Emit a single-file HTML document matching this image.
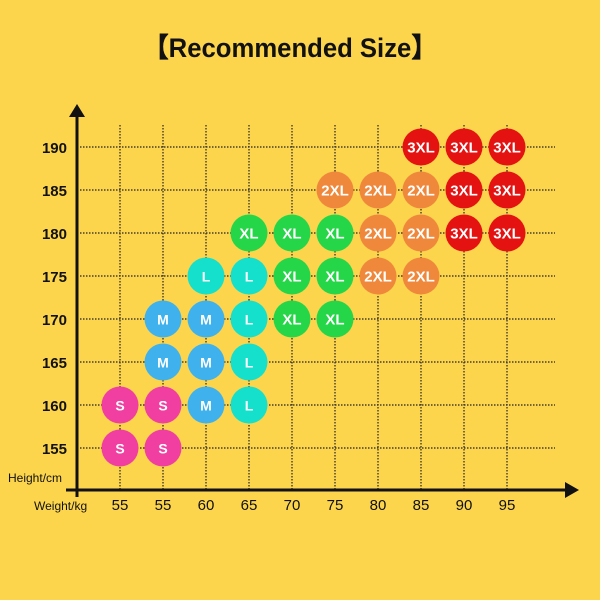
<!DOCTYPE html>
<html><head><meta charset="utf-8"><style>
html,body{margin:0;padding:0;background:#fdd54d;}
svg{display:block}
text{font-family:"Liberation Sans",sans-serif;}
.t{font-size:15px;font-weight:bold;fill:#fff;text-anchor:middle}
.s{font-size:14px;font-weight:bold;fill:#fff;text-anchor:middle}
</style></head><body>
<svg width="600" height="600" viewBox="0 0 600 600" xmlns="http://www.w3.org/2000/svg">
<defs>
<circle id="cc" r="18.5"/>
</defs>
<rect width="600" height="600" fill="#fdd54d"/>
<text x="290" y="57" text-anchor="middle" font-size="27" font-weight="bold" fill="#111" textLength="294" lengthAdjust="spacingAndGlyphs">【Recommended Size】</text>
<g stroke="#222" stroke-width="1.2" stroke-dasharray="1.5,1.5" fill="none">
<line x1="120" y1="125" x2="120" y2="490"/><line x1="163" y1="125" x2="163" y2="490"/><line x1="206" y1="125" x2="206" y2="490"/><line x1="249" y1="125" x2="249" y2="490"/><line x1="292" y1="125" x2="292" y2="490"/><line x1="335" y1="125" x2="335" y2="490"/><line x1="378" y1="125" x2="378" y2="490"/><line x1="421" y1="125" x2="421" y2="490"/><line x1="464" y1="125" x2="464" y2="490"/><line x1="507" y1="125" x2="507" y2="490"/>
<line x1="77" y1="147" x2="555" y2="147"/><line x1="77" y1="190" x2="555" y2="190"/><line x1="77" y1="233" x2="555" y2="233"/><line x1="77" y1="276" x2="555" y2="276"/><line x1="77" y1="319" x2="555" y2="319"/><line x1="77" y1="362" x2="555" y2="362"/><line x1="77" y1="405" x2="555" y2="405"/><line x1="77" y1="448" x2="555" y2="448"/>
</g>
<line x1="77" y1="113" x2="77" y2="497" stroke="#111" stroke-width="3"/>
<polygon points="77,104 69,117 85,117" fill="#111"/>
<line x1="66" y1="490" x2="567" y2="490" stroke="#111" stroke-width="3"/>
<polygon points="579,490 565,482 565,498" fill="#111"/>
<g font-size="15" font-weight="bold" fill="#111" text-anchor="end">
<text x="67" y="153">190</text><text x="67" y="196">185</text><text x="67" y="239">180</text><text x="67" y="282">175</text><text x="67" y="325">170</text><text x="67" y="368">165</text><text x="67" y="411">160</text><text x="67" y="454">155</text>
</g>
<text x="8" y="482" font-size="12" fill="#111">Height/cm</text>
<text x="34" y="510" font-size="12" fill="#111">Weight/kg</text>
<g font-size="15" fill="#111" text-anchor="middle">
<text x="120" y="510">55</text><text x="163" y="510">55</text><text x="206" y="510">60</text><text x="249" y="510">65</text><text x="292" y="510">70</text><text x="335" y="510">75</text><text x="378" y="510">80</text><text x="421" y="510">85</text><text x="464" y="510">90</text><text x="507" y="510">95</text>
</g>

<!-- 3XL -->
<g fill="#e51212">
<use href="#cc" x="421" y="147"/><use href="#cc" x="464" y="147"/><use href="#cc" x="507" y="147"/>
<use href="#cc" x="464" y="190"/><use href="#cc" x="507" y="190"/>
<use href="#cc" x="464" y="233"/><use href="#cc" x="507" y="233"/>
</g>
<!-- 2XL -->
<g fill="#f0883c">
<use href="#cc" x="335" y="190"/><use href="#cc" x="378" y="190"/><use href="#cc" x="421" y="190"/>
<use href="#cc" x="378" y="233"/><use href="#cc" x="421" y="233"/>
<use href="#cc" x="378" y="276"/><use href="#cc" x="421" y="276"/>
</g>
<!-- XL -->
<g fill="#24d648">
<use href="#cc" x="249" y="233"/><use href="#cc" x="292" y="233"/><use href="#cc" x="335" y="233"/>
<use href="#cc" x="292" y="276"/><use href="#cc" x="335" y="276"/>
<use href="#cc" x="292" y="319"/><use href="#cc" x="335" y="319"/>
</g>
<!-- L -->
<g fill="#14e0cc">
<use href="#cc" x="206" y="276"/><use href="#cc" x="249" y="276"/>
<use href="#cc" x="249" y="319"/><use href="#cc" x="249" y="362"/><use href="#cc" x="249" y="405"/>
</g>
<!-- M -->
<g fill="#3fb2ee">
<use href="#cc" x="163" y="319"/><use href="#cc" x="206" y="319"/>
<use href="#cc" x="163" y="362"/><use href="#cc" x="206" y="362"/>
<use href="#cc" x="206" y="405"/>
</g>
<!-- S -->
<g fill="#f03fa0">
<use href="#cc" x="120" y="405"/><use href="#cc" x="163" y="405"/>
<use href="#cc" x="120" y="448"/><use href="#cc" x="163" y="448"/>
</g>

<g class="t">
<text x="421" y="152.5">3XL</text><text x="464" y="152.5">3XL</text><text x="507" y="152.5">3XL</text>
<text x="335" y="195.5">2XL</text><text x="378" y="195.5">2XL</text><text x="421" y="195.5">2XL</text><text x="464" y="195.5">3XL</text><text x="507" y="195.5">3XL</text>
<text x="249" y="238.5">XL</text><text x="292" y="238.5">XL</text><text x="335" y="238.5">XL</text><text x="378" y="238.5">2XL</text><text x="421" y="238.5">2XL</text><text x="464" y="238.5">3XL</text><text x="507" y="238.5">3XL</text>
<text x="292" y="281.5">XL</text><text x="335" y="281.5">XL</text><text x="378" y="281.5">2XL</text><text x="421" y="281.5">2XL</text>
<text x="292" y="324.5">XL</text><text x="335" y="324.5">XL</text>
</g>
<g class="s">
<text x="206" y="281.5">L</text><text x="249" y="281.5">L</text>
<text x="163" y="324.5">M</text><text x="206" y="324.5">M</text><text x="249" y="324.5">L</text>
<text x="163" y="367.5">M</text><text x="206" y="367.5">M</text><text x="249" y="367.5">L</text>
<text x="120" y="410.5">S</text><text x="163" y="410.5">S</text><text x="206" y="410.5">M</text><text x="249" y="410.5">L</text>
<text x="120" y="453.5">S</text><text x="163" y="453.5">S</text>
</g>
</svg>
</body></html>
